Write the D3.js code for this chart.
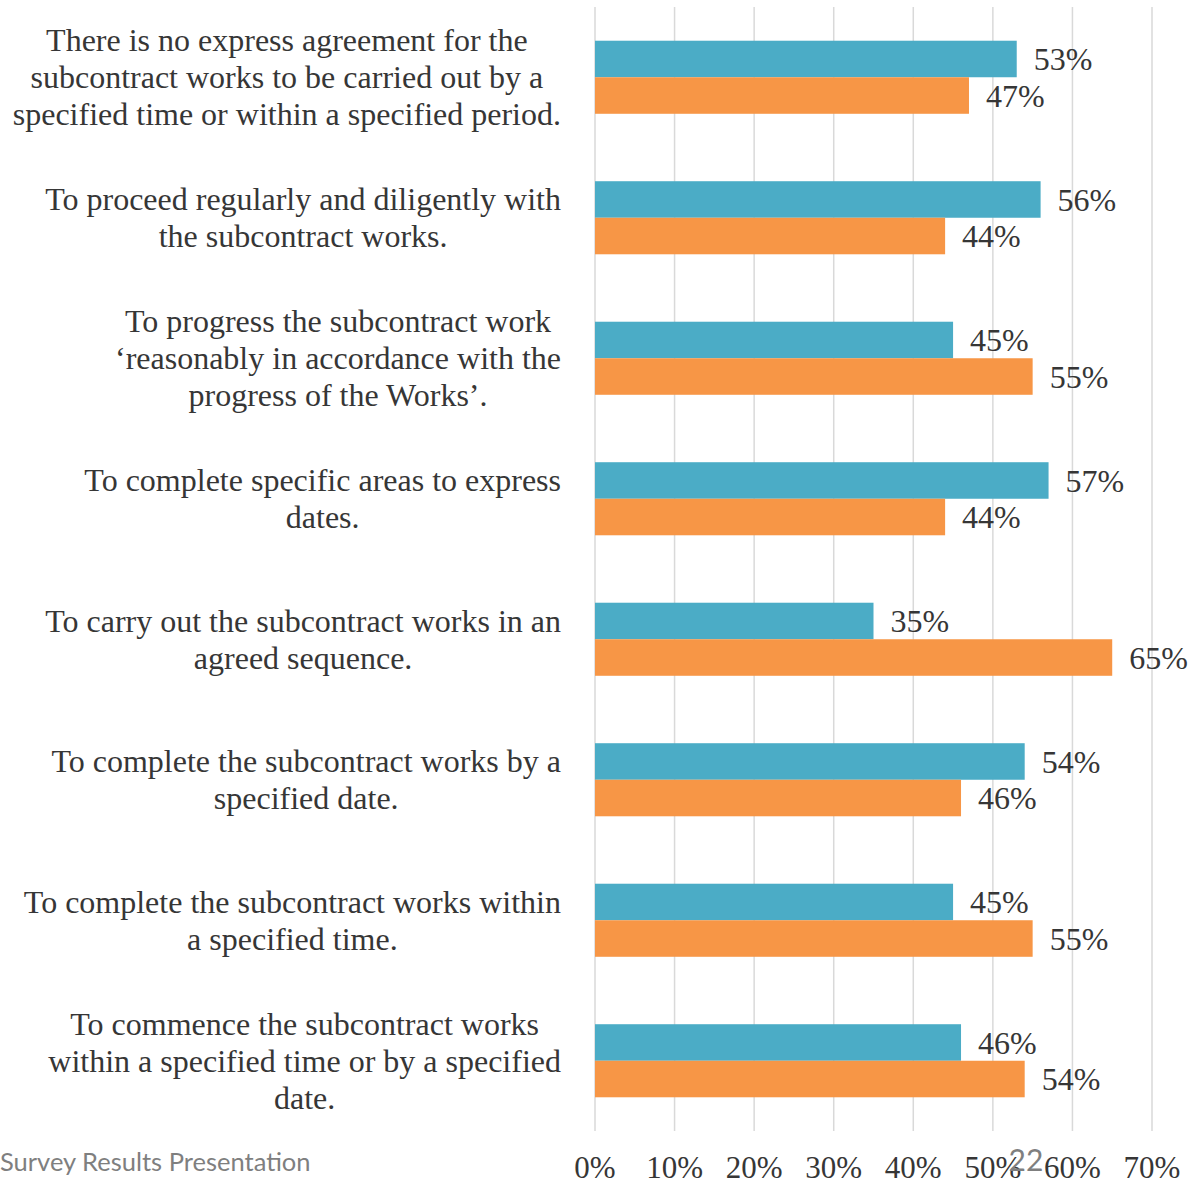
<!DOCTYPE html>
<html>
<head>
<meta charset="utf-8">
<script src="https://cdn.jsdelivr.net/npm/d3@7"></script>
<style>
  html, body { margin: 0; padding: 0; background: #fff; }
  svg { display: block; }
  .serif { font-family: "Liberation Serif", "Times New Roman", Times, "DejaVu Serif", serif; }
  .sans { font-family: Lato, "Open Sans", "Liberation Sans", sans-serif; }
</style>
</head>
<body>
<svg id="chart" width="1189" height="1184"></svg>
<script>
// Category labels, split into the lines they are set on
const categories = [
  ["There is no express agreement for the", "subcontract works to be carried out by a", "specified time or within a specified period."],
  ["To proceed regularly and diligently with", "the subcontract works."],
  ["To progress the subcontract work", "\u2018reasonably in accordance with the", "progress of the Works\u2019."],
  ["To complete specific areas to express", "dates."],
  ["To carry out the subcontract works in an", "agreed sequence."],
  ["To complete the subcontract works by a", "specified date."],
  ["To complete the subcontract works within", "a specified time."],
  ["To commence the subcontract works", "within a specified time or by a specified", "date."]
];
const seriesA = [53, 56, 45, 57, 35, 54, 45, 46];
const seriesB = [47, 44, 55, 44, 65, 46, 55, 54];
const tickValues = [0, 10, 20, 30, 40, 50, 60, 70];
const footerText = "Survey Results Presentation";
const pageNumber = "22";

const colors = { a: "#4BACC6", b: "#F79646", grid: "#d9d9d9", text: "#363636", footer: "#7f7f7f" };

const svg = d3.select("#chart");
const plot = { left: 595, right: 1152, top: 7, bottom: 1131 };

const x = d3.scaleLinear().domain([0, 70]).range([plot.left, plot.right]);
const y = d3.scaleBand().domain(d3.range(categories.length)).range([plot.top, plot.bottom]).paddingInner(0.48).paddingOuter(0.24);
const sub = d3.scaleBand().domain(["a", "b"]).range([0, y.bandwidth()]);

// vertical gridlines
svg.append("g").selectAll("line").data(tickValues).join("line")
  .attr("x1", d => x(d)).attr("x2", d => x(d))
  .attr("y1", plot.top).attr("y2", plot.bottom)
  .attr("stroke", colors.grid).attr("stroke-width", 1.5);

// bars with their value labels
const groups = svg.append("g").selectAll("g").data(categories.map((c, i) => ({ i, a: seriesA[i], b: seriesB[i] })))
  .join("g").attr("transform", d => `translate(0,${y(d.i)})`);

["a", "b"].forEach(k => {
  groups.append("rect")
    .attr("x", x(0)).attr("y", sub(k))
    .attr("width", d => x(d[k]) - x(0)).attr("height", sub.bandwidth())
    .attr("fill", colors[k]);
  groups.append("text")
    .attr("class", "serif")
    .attr("x", d => x(d[k]) + 17).attr("y", sub(k) + sub.bandwidth() / 2)
    .attr("dy", "0.35em")
    .attr("font-size", 32).attr("fill", colors.text)
    .text(d => d[k] + "%");
});

// category labels: lines centred within a block right-aligned to the axis
const lineH = 37;
const labelRight = 561;
const labels = svg.append("g");
categories.forEach((lines, i) => {
  const cy = y(i) + y.bandwidth() / 2;
  const g = labels.append("g");
  const t = g.selectAll("text").data(lines).join("text")
    .attr("class", "serif")
    .attr("font-size", 32).attr("fill", colors.text)
    .attr("text-anchor", "middle")
    .attr("y", (d, j) => cy + (j - (lines.length - 1) / 2) * lineH)
    .attr("dy", "0.35em")
    .text(d => d);
  const maxW = d3.max(t.nodes(), n => n.getComputedTextLength());
  t.attr("x", labelRight - maxW / 2);
});

// x axis tick labels
svg.append("g").selectAll("text").data(tickValues).join("text")
  .attr("class", "serif")
  .attr("x", d => x(d)).attr("y", 1167).attr("dy", "0.35em")
  .attr("text-anchor", "middle")
  .attr("font-size", 31).attr("fill", colors.text)
  .text(d => d + "%");

// slide footer
svg.append("text").attr("class", "sans").attr("x", 0).attr("y", 1162).attr("dy", "0.35em")
  .attr("font-size", 25.5).attr("fill", colors.footer)
  .text(footerText);
svg.append("text").attr("class", "sans").attr("x", 1026).attr("y", 1160).attr("dy", "0.35em")
  .attr("text-anchor", "middle")
  .attr("font-size", 30).attr("fill", colors.footer)
  .text(pageNumber);
</script>
</body>
</html>
